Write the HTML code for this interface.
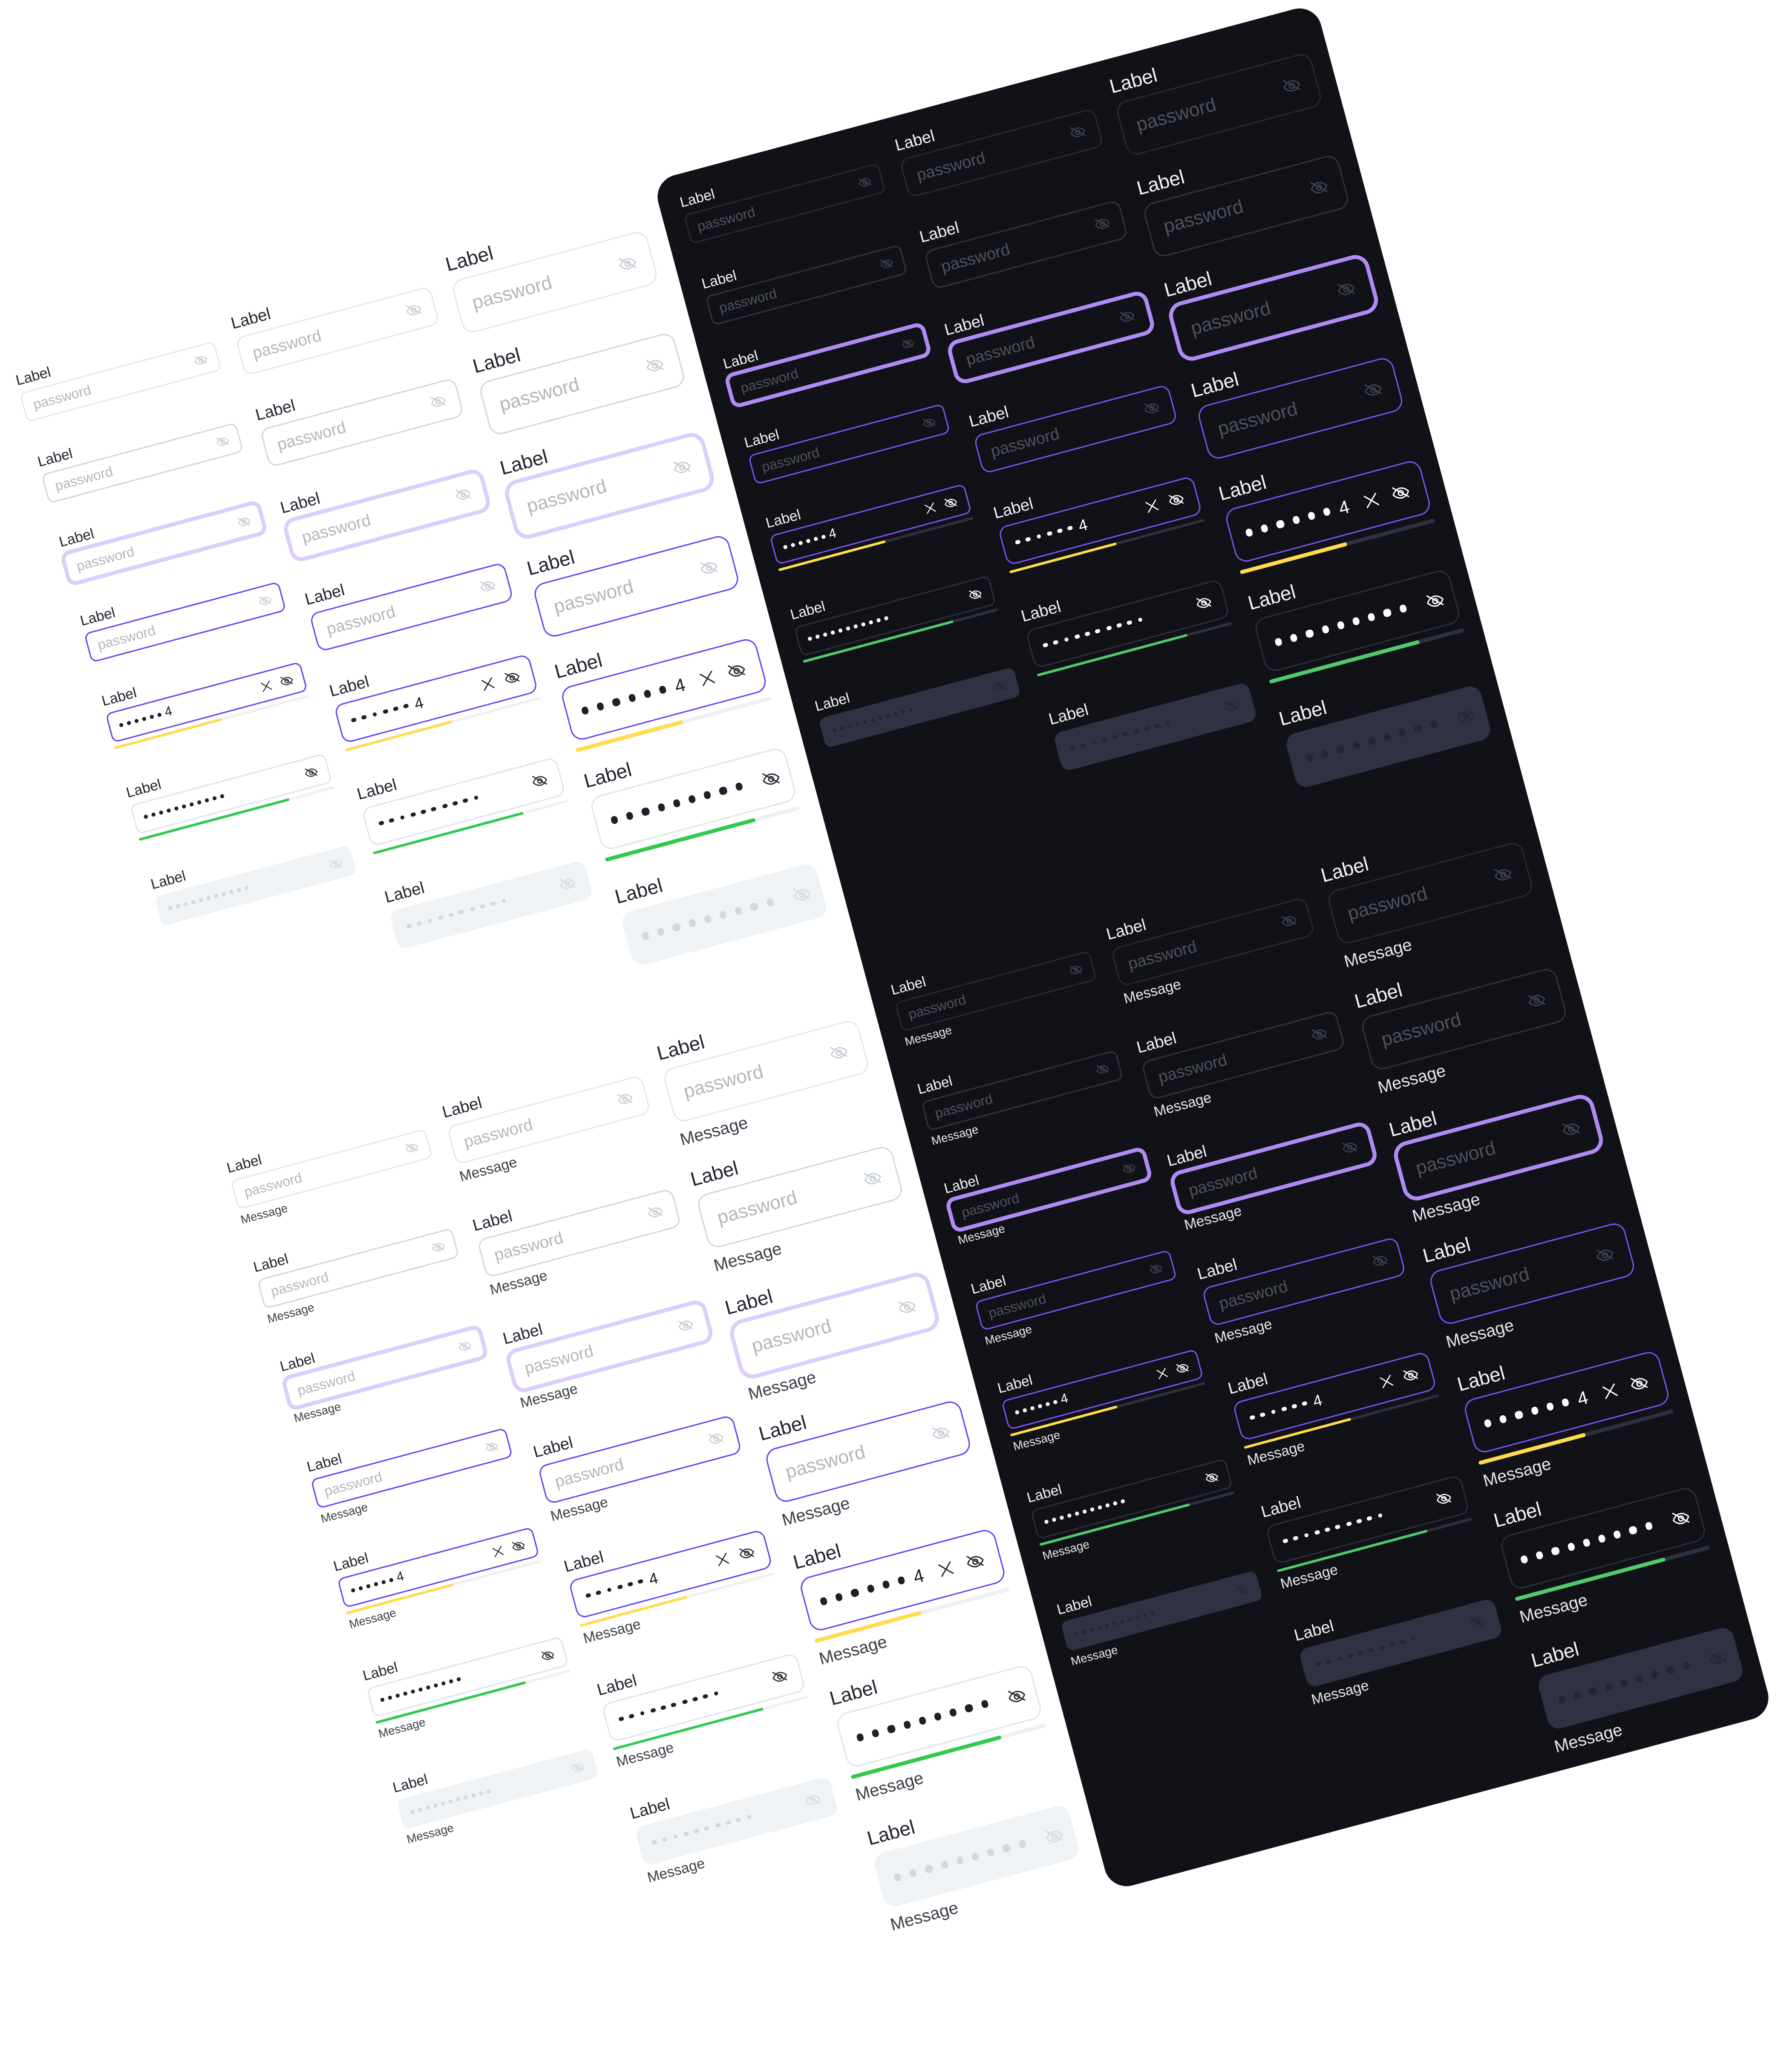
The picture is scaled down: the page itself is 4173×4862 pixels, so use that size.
<!DOCTYPE html>
<html><head><meta charset="utf-8">
<style>
html,body{margin:0;padding:0;background:#fff;width:4173px;height:4861px;overflow:hidden}
#s{position:absolute;left:0;top:0;width:1350px;height:1573px;transform:scale(3.0911);transform-origin:0 0}
#r{position:absolute;left:0;top:0;width:0;height:0;transform:rotate(-15deg);transform-origin:0 0}
.gt{position:absolute;left:0;top:6px}
.gb{position:absolute;left:0;top:10px}
.pn{position:absolute;left:443px;top:261px;width:521px;height:1344px;border-radius:17px;background:#111218}
.f{position:absolute;width:153px;font-family:"Liberation Sans",sans-serif}
.lb{display:block;font-weight:500;white-space:nowrap}
.s1 .lb{font-size:11px;line-height:13px}
.s2 .lb{font-size:12.5px;line-height:15px}
.s3 .lb{font-size:15px;line-height:18px}
.bx{box-sizing:border-box;display:flex;align-items:center;border:1px solid transparent}
.s1 .bx{height:23px;margin-top:2px;border-radius:5px;padding:0 7px}
.s2 .bx{height:30px;margin-top:3px;border-radius:7px;padding:0 9px}
.s3 .bx{height:42px;margin-top:3px;border-radius:9px;padding:0 11px}
.ph{flex:1;white-space:nowrap;display:flex;align-items:center}
.s1 .ph{font-size:10.5px}.s2 .ph{font-size:12.5px}.s3 .ph{font-size:14.5px}
svg.ic{flex:none;fill:none;stroke:currentColor;stroke-width:1.6;stroke-linecap:round}
.s1 .ic{width:11px;height:11px;margin-left:5px}
.s2 .ic{width:13px;height:13px;margin-left:6px}
.s3 .ic{width:15px;height:15px;margin-left:8px}
.f i{display:inline-block;border-radius:50%;background:currentColor;flex:none}
.s1 i{width:2.9px;height:2.9px;margin-right:3.1px}
.s2 i{width:3.9px;height:3.9px;margin-right:4.4px}
.s3 i{width:5.2px;height:5.2px;margin-right:7px}
.f b{font-weight:500}
.s1 b{font-size:10px}.s2 b{font-size:12px}.s3 b{font-size:14px}
.bar{border-radius:2px;overflow:hidden}
.s1 .bar{height:2px;margin-top:3px}
.s2 .bar{height:2.5px;margin-top:4px}
.s3 .bar{height:3px;margin-top:5px}
.bar div{height:100%;border-radius:2px}
.bar .y{width:55%;background:#ffdb4d}
.bar .g{width:77%;background:#33c84f}
.ms{display:block;white-space:nowrap;font-weight:500}
.s1 .ms{font-size:9px;margin-top:3px}
.s2 .ms{font-size:11px;margin-top:4px}
.s3 .ms{font-size:13px;margin-top:5px}
.L .lb{color:#23232f}.L .ph{color:#b2b6bc}.L .ic{color:#c6cdd4}.L .ms{color:#3b3e47}
.L .r1 .bx{border-color:#e3e7eb}.L .r2 .bx{border-color:#cfd6dd}
.L .r3 .bx{border-color:#dccdfb;box-shadow:0 0 0 2px #dccdfb}
.L .r4 .bx,.L .r5 .bx{border-color:#6a3cf2}
.L .r5 .ph,.L .r6 .ph{color:#1f1f2b}.L .r5 .ic,.L .r6 .ic{color:#2a2a36}
.L .r6 .bx{border-color:#dfe4e9}
.L .r7 .bx{background:#f0f3f6;border-color:#f0f3f6}.L .r7 .ph{color:#d3d8de}.L .r7 .ic{color:#d6dbe0}
.L .bar{background:#eef1f4}
.D .lb{color:#f3f3f6}.D .ph{color:#4f515c}.D .ic{color:#3f4150}.D .ms{color:#e8e8ec}
.D .r1 .bx{border-color:#272835}.D .r2 .bx{border-color:#30323f}
.D .r3 .bx{border-color:#b38cf6;box-shadow:0 0 0 2px #b38cf6}
.D .r4 .bx,.D .r5 .bx{border-color:#7f50f6}
.D .r5 .ph,.D .r6 .ph{color:#fff}.D .r5 .ic,.D .r6 .ic{color:#fff}
.D .r6 .bx{border-color:#2c2e3c}
.D .r7 .bx{background:#303244;border-color:#303244}.D .r7 .ph{color:#23253a}.D .r7 .ic{color:#23253a}
.D .bar{background:#2e3040}
.D .bar .g{background:#52c96c}
</style></head><body>
<svg width="0" height="0" style="position:absolute">
<symbol id="e" viewBox="0 0 24 24"><path d="M2.5 12.5s3.5-6 9.5-6 9.5 6 9.5 6-3.5 6-9.5 6-9.5-6-9.5-6z"/><circle cx="12" cy="12.5" r="3"/><path d="M4 4l16 15"/></symbol>
<symbol id="x" viewBox="0 0 24 24"><path d="M5 5l14 14M19 5L5 19"/></symbol>
</svg>
<div id="s"><div id="r">

<div class="pn"></div>

<!-- LIGHT TOP -->
<div class="L gt">
<div class="f s1 r1" style="left:-63px;top:271px"><span class="lb">Label</span><div class="bx"><span class="ph">password</span><svg class="ic"><use href="#e"/></svg></div></div>
<div class="f s1 r2" style="left:-63px;top:335px"><span class="lb">Label</span><div class="bx"><span class="ph">password</span><svg class="ic"><use href="#e"/></svg></div></div>
<div class="f s1 r3" style="left:-63px;top:398px"><span class="lb">Label</span><div class="bx"><span class="ph">password</span><svg class="ic"><use href="#e"/></svg></div></div>
<div class="f s1 r4" style="left:-63px;top:460px"><span class="lb">Label</span><div class="bx"><span class="ph">password</span><svg class="ic"><use href="#e"/></svg></div></div>
<div class="f s1 r5" style="left:-63px;top:523px"><span class="lb">Label</span><div class="bx"><span class="ph"><i></i><i></i><i></i><i></i><i></i><i></i><b>4</b></span><svg class="ic"><use href="#x"/></svg><svg class="ic"><use href="#e"/></svg></div><div class="bar"><div class="y"></div></div></div>
<div class="f s1 r6" style="left:-63px;top:595px"><span class="lb">Label</span><div class="bx"><span class="ph"><i></i><i></i><i></i><i></i><i></i><i></i><i></i><i></i><i></i><i></i><i></i></span><svg class="ic"><use href="#e"/></svg></div><div class="bar"><div class="g"></div></div></div>
<div class="f s1 r7" style="left:-63px;top:667px"><span class="lb">Label</span><div class="bx"><span class="ph"><i></i><i></i><i></i><i></i><i></i><i></i><i></i><i></i><i></i><i></i><i></i></span><svg class="ic"><use href="#e"/></svg></div></div>

<div class="f s2 r1" style="left:106px;top:269.5px"><span class="lb">Label</span><div class="bx"><span class="ph">password</span><svg class="ic"><use href="#e"/></svg></div></div>
<div class="f s2 r2" style="left:106px;top:341.5px"><span class="lb">Label</span><div class="bx"><span class="ph">password</span><svg class="ic"><use href="#e"/></svg></div></div>
<div class="f s2 r3" style="left:106px;top:414.5px"><span class="lb">Label</span><div class="bx"><span class="ph">password</span><svg class="ic"><use href="#e"/></svg></div></div>
<div class="f s2 r4" style="left:106px;top:486.5px"><span class="lb">Label</span><div class="bx"><span class="ph">password</span><svg class="ic"><use href="#e"/></svg></div></div>
<div class="f s2 r5" style="left:106px;top:558.5px"><span class="lb">Label</span><div class="bx"><span class="ph"><i></i><i></i><i></i><i></i><i></i><i></i><b>4</b></span><svg class="ic"><use href="#x"/></svg><svg class="ic"><use href="#e"/></svg></div><div class="bar"><div class="y"></div></div></div>
<div class="f s2 r6" style="left:106px;top:639.5px"><span class="lb">Label</span><div class="bx"><span class="ph"><i></i><i></i><i></i><i></i><i></i><i></i><i></i><i></i><i></i><i></i></span><svg class="ic"><use href="#e"/></svg></div><div class="bar"><div class="g"></div></div></div>
<div class="f s2 r7" style="left:106px;top:720.5px"><span class="lb">Label</span><div class="bx"><span class="ph"><i></i><i></i><i></i><i></i><i></i><i></i><i></i><i></i><i></i><i></i></span><svg class="ic"><use href="#e"/></svg></div></div>

<div class="f s3 r1" style="left:275px;top:268px"><span class="lb">Label</span><div class="bx"><span class="ph">password</span><svg class="ic"><use href="#e"/></svg></div></div>
<div class="f s3 r2" style="left:275px;top:348px"><span class="lb">Label</span><div class="bx"><span class="ph">password</span><svg class="ic"><use href="#e"/></svg></div></div>
<div class="f s3 r3" style="left:275px;top:428px"><span class="lb">Label</span><div class="bx"><span class="ph">password</span><svg class="ic"><use href="#e"/></svg></div></div>
<div class="f s3 r4" style="left:275px;top:507px"><span class="lb">Label</span><div class="bx"><span class="ph">password</span><svg class="ic"><use href="#e"/></svg></div></div>
<div class="f s3 r5" style="left:275px;top:588px"><span class="lb">Label</span><div class="bx"><span class="ph"><i></i><i></i><i></i><i></i><i></i><i></i><b>4</b></span><svg class="ic"><use href="#x"/></svg><svg class="ic"><use href="#e"/></svg></div><div class="bar"><div class="y"></div></div></div>
<div class="f s3 r6" style="left:275px;top:674px"><span class="lb">Label</span><div class="bx"><span class="ph"><i></i><i></i><i></i><i></i><i></i><i></i><i></i><i></i><i></i></span><svg class="ic"><use href="#e"/></svg></div><div class="bar"><div class="g"></div></div></div>
<div class="f s3 r7" style="left:275px;top:765px"><span class="lb">Label</span><div class="bx"><span class="ph"><i></i><i></i><i></i><i></i><i></i><i></i><i></i><i></i><i></i></span><svg class="ic"><use href="#e"/></svg></div></div>
</div>

<!-- DARK TOP -->
<div class="D gt">
<div class="f s1 r1" style="left:459px;top:271px"><span class="lb">Label</span><div class="bx"><span class="ph">password</span><svg class="ic"><use href="#e"/></svg></div></div>
<div class="f s1 r2" style="left:459px;top:335px"><span class="lb">Label</span><div class="bx"><span class="ph">password</span><svg class="ic"><use href="#e"/></svg></div></div>
<div class="f s1 r3" style="left:459px;top:398px"><span class="lb">Label</span><div class="bx"><span class="ph">password</span><svg class="ic"><use href="#e"/></svg></div></div>
<div class="f s1 r4" style="left:459px;top:460px"><span class="lb">Label</span><div class="bx"><span class="ph">password</span><svg class="ic"><use href="#e"/></svg></div></div>
<div class="f s1 r5" style="left:459px;top:523px"><span class="lb">Label</span><div class="bx"><span class="ph"><i></i><i></i><i></i><i></i><i></i><i></i><b>4</b></span><svg class="ic"><use href="#x"/></svg><svg class="ic"><use href="#e"/></svg></div><div class="bar"><div class="y"></div></div></div>
<div class="f s1 r6" style="left:459px;top:595px"><span class="lb">Label</span><div class="bx"><span class="ph"><i></i><i></i><i></i><i></i><i></i><i></i><i></i><i></i><i></i><i></i><i></i></span><svg class="ic"><use href="#e"/></svg></div><div class="bar"><div class="g"></div></div></div>
<div class="f s1 r7" style="left:459px;top:667px"><span class="lb">Label</span><div class="bx"><span class="ph"><i></i><i></i><i></i><i></i><i></i><i></i><i></i><i></i><i></i><i></i><i></i></span><svg class="ic"><use href="#e"/></svg></div></div>

<div class="f s2 r1" style="left:628px;top:269.5px"><span class="lb">Label</span><div class="bx"><span class="ph">password</span><svg class="ic"><use href="#e"/></svg></div></div>
<div class="f s2 r2" style="left:628px;top:341.5px"><span class="lb">Label</span><div class="bx"><span class="ph">password</span><svg class="ic"><use href="#e"/></svg></div></div>
<div class="f s2 r3" style="left:628px;top:414.5px"><span class="lb">Label</span><div class="bx"><span class="ph">password</span><svg class="ic"><use href="#e"/></svg></div></div>
<div class="f s2 r4" style="left:628px;top:486.5px"><span class="lb">Label</span><div class="bx"><span class="ph">password</span><svg class="ic"><use href="#e"/></svg></div></div>
<div class="f s2 r5" style="left:628px;top:558.5px"><span class="lb">Label</span><div class="bx"><span class="ph"><i></i><i></i><i></i><i></i><i></i><i></i><b>4</b></span><svg class="ic"><use href="#x"/></svg><svg class="ic"><use href="#e"/></svg></div><div class="bar"><div class="y"></div></div></div>
<div class="f s2 r6" style="left:628px;top:639.5px"><span class="lb">Label</span><div class="bx"><span class="ph"><i></i><i></i><i></i><i></i><i></i><i></i><i></i><i></i><i></i><i></i></span><svg class="ic"><use href="#e"/></svg></div><div class="bar"><div class="g"></div></div></div>
<div class="f s2 r7" style="left:628px;top:720.5px"><span class="lb">Label</span><div class="bx"><span class="ph"><i></i><i></i><i></i><i></i><i></i><i></i><i></i><i></i><i></i><i></i></span><svg class="ic"><use href="#e"/></svg></div></div>

<div class="f s3 r1" style="left:797px;top:268px"><span class="lb">Label</span><div class="bx"><span class="ph">password</span><svg class="ic"><use href="#e"/></svg></div></div>
<div class="f s3 r2" style="left:797px;top:348px"><span class="lb">Label</span><div class="bx"><span class="ph">password</span><svg class="ic"><use href="#e"/></svg></div></div>
<div class="f s3 r3" style="left:797px;top:428px"><span class="lb">Label</span><div class="bx"><span class="ph">password</span><svg class="ic"><use href="#e"/></svg></div></div>
<div class="f s3 r4" style="left:797px;top:507px"><span class="lb">Label</span><div class="bx"><span class="ph">password</span><svg class="ic"><use href="#e"/></svg></div></div>
<div class="f s3 r5" style="left:797px;top:588px"><span class="lb">Label</span><div class="bx"><span class="ph"><i></i><i></i><i></i><i></i><i></i><i></i><b>4</b></span><svg class="ic"><use href="#x"/></svg><svg class="ic"><use href="#e"/></svg></div><div class="bar"><div class="y"></div></div></div>
<div class="f s3 r6" style="left:797px;top:674px"><span class="lb">Label</span><div class="bx"><span class="ph"><i></i><i></i><i></i><i></i><i></i><i></i><i></i><i></i><i></i></span><svg class="ic"><use href="#e"/></svg></div><div class="bar"><div class="g"></div></div></div>
<div class="f s3 r7" style="left:797px;top:765px"><span class="lb">Label</span><div class="bx"><span class="ph"><i></i><i></i><i></i><i></i><i></i><i></i><i></i><i></i><i></i></span><svg class="ic"><use href="#e"/></svg></div></div>
</div>

<!-- LIGHT BOTTOM -->
<div class="L gb">
<div class="f s1 r1" style="left:-63px;top:886px"><span class="lb">Label</span><div class="bx"><span class="ph">password</span><svg class="ic"><use href="#e"/></svg></div><span class="ms">Message</span></div>
<div class="f s1 r2" style="left:-63px;top:964px"><span class="lb">Label</span><div class="bx"><span class="ph">password</span><svg class="ic"><use href="#e"/></svg></div><span class="ms">Message</span></div>
<div class="f s1 r3" style="left:-63px;top:1042px"><span class="lb">Label</span><div class="bx"><span class="ph">password</span><svg class="ic"><use href="#e"/></svg></div><span class="ms">Message</span></div>
<div class="f s1 r4" style="left:-63px;top:1121px"><span class="lb">Label</span><div class="bx"><span class="ph">password</span><svg class="ic"><use href="#e"/></svg></div><span class="ms">Message</span></div>
<div class="f s1 r5" style="left:-63px;top:1199px"><span class="lb">Label</span><div class="bx"><span class="ph"><i></i><i></i><i></i><i></i><i></i><i></i><b>4</b></span><svg class="ic"><use href="#x"/></svg><svg class="ic"><use href="#e"/></svg></div><div class="bar"><div class="y"></div></div><span class="ms">Message</span></div>
<div class="f s1 r6" style="left:-63px;top:1285px"><span class="lb">Label</span><div class="bx"><span class="ph"><i></i><i></i><i></i><i></i><i></i><i></i><i></i><i></i><i></i><i></i><i></i></span><svg class="ic"><use href="#e"/></svg></div><div class="bar"><div class="g"></div></div><span class="ms">Message</span></div>
<div class="f s1 r7" style="left:-63px;top:1373px"><span class="lb">Label</span><div class="bx"><span class="ph"><i></i><i></i><i></i><i></i><i></i><i></i><i></i><i></i><i></i><i></i><i></i></span><svg class="ic"><use href="#e"/></svg></div><span class="ms">Message</span></div>

<div class="f s2 r1" style="left:106px;top:885.5px"><span class="lb">Label</span><div class="bx"><span class="ph">password</span><svg class="ic"><use href="#e"/></svg></div><span class="ms">Message</span></div>
<div class="f s2 r2" style="left:106px;top:974.5px"><span class="lb">Label</span><div class="bx"><span class="ph">password</span><svg class="ic"><use href="#e"/></svg></div><span class="ms">Message</span></div>
<div class="f s2 r3" style="left:106px;top:1063.5px"><span class="lb">Label</span><div class="bx"><span class="ph">password</span><svg class="ic"><use href="#e"/></svg></div><span class="ms">Message</span></div>
<div class="f s2 r4" style="left:106px;top:1152.5px"><span class="lb">Label</span><div class="bx"><span class="ph">password</span><svg class="ic"><use href="#e"/></svg></div><span class="ms">Message</span></div>
<div class="f s2 r5" style="left:106px;top:1242.5px"><span class="lb">Label</span><div class="bx"><span class="ph"><i></i><i></i><i></i><i></i><i></i><i></i><b>4</b></span><svg class="ic"><use href="#x"/></svg><svg class="ic"><use href="#e"/></svg></div><div class="bar"><div class="y"></div></div><span class="ms">Message</span></div>
<div class="f s2 r6" style="left:106px;top:1339.5px"><span class="lb">Label</span><div class="bx"><span class="ph"><i></i><i></i><i></i><i></i><i></i><i></i><i></i><i></i><i></i><i></i></span><svg class="ic"><use href="#e"/></svg></div><div class="bar"><div class="g"></div></div><span class="ms">Message</span></div>
<div class="f s2 r7" style="left:106px;top:1436.5px"><span class="lb">Label</span><div class="bx"><span class="ph"><i></i><i></i><i></i><i></i><i></i><i></i><i></i><i></i><i></i><i></i></span><svg class="ic"><use href="#e"/></svg></div><span class="ms">Message</span></div>

<div class="f s3 r1" style="left:275px;top:884px"><span class="lb">Label</span><div class="bx"><span class="ph">password</span><svg class="ic"><use href="#e"/></svg></div><span class="ms">Message</span></div>
<div class="f s3 r2" style="left:275px;top:983px"><span class="lb">Label</span><div class="bx"><span class="ph">password</span><svg class="ic"><use href="#e"/></svg></div><span class="ms">Message</span></div>
<div class="f s3 r3" style="left:275px;top:1084px"><span class="lb">Label</span><div class="bx"><span class="ph">password</span><svg class="ic"><use href="#e"/></svg></div><span class="ms">Message</span></div>
<div class="f s3 r4" style="left:275px;top:1183px"><span class="lb">Label</span><div class="bx"><span class="ph">password</span><svg class="ic"><use href="#e"/></svg></div><span class="ms">Message</span></div>
<div class="f s3 r5" style="left:275px;top:1284px"><span class="lb">Label</span><div class="bx"><span class="ph"><i></i><i></i><i></i><i></i><i></i><i></i><b>4</b></span><svg class="ic"><use href="#x"/></svg><svg class="ic"><use href="#e"/></svg></div><div class="bar"><div class="y"></div></div><span class="ms">Message</span></div>
<div class="f s3 r6" style="left:275px;top:1391px"><span class="lb">Label</span><div class="bx"><span class="ph"><i></i><i></i><i></i><i></i><i></i><i></i><i></i><i></i><i></i></span><svg class="ic"><use href="#e"/></svg></div><div class="bar"><div class="g"></div></div><span class="ms">Message</span></div>
<div class="f s3 r7" style="left:275px;top:1501px"><span class="lb">Label</span><div class="bx"><span class="ph"><i></i><i></i><i></i><i></i><i></i><i></i><i></i><i></i><i></i></span><svg class="ic"><use href="#e"/></svg></div><span class="ms">Message</span></div>
</div>

<!-- DARK BOTTOM -->
<div class="D gb">
<div class="f s1 r1" style="left:459px;top:886px"><span class="lb">Label</span><div class="bx"><span class="ph">password</span><svg class="ic"><use href="#e"/></svg></div><span class="ms">Message</span></div>
<div class="f s1 r2" style="left:459px;top:964px"><span class="lb">Label</span><div class="bx"><span class="ph">password</span><svg class="ic"><use href="#e"/></svg></div><span class="ms">Message</span></div>
<div class="f s1 r3" style="left:459px;top:1042px"><span class="lb">Label</span><div class="bx"><span class="ph">password</span><svg class="ic"><use href="#e"/></svg></div><span class="ms">Message</span></div>
<div class="f s1 r4" style="left:459px;top:1121px"><span class="lb">Label</span><div class="bx"><span class="ph">password</span><svg class="ic"><use href="#e"/></svg></div><span class="ms">Message</span></div>
<div class="f s1 r5" style="left:459px;top:1199px"><span class="lb">Label</span><div class="bx"><span class="ph"><i></i><i></i><i></i><i></i><i></i><i></i><b>4</b></span><svg class="ic"><use href="#x"/></svg><svg class="ic"><use href="#e"/></svg></div><div class="bar"><div class="y"></div></div><span class="ms">Message</span></div>
<div class="f s1 r6" style="left:459px;top:1285px"><span class="lb">Label</span><div class="bx"><span class="ph"><i></i><i></i><i></i><i></i><i></i><i></i><i></i><i></i><i></i><i></i><i></i></span><svg class="ic"><use href="#e"/></svg></div><div class="bar"><div class="g"></div></div><span class="ms">Message</span></div>
<div class="f s1 r7" style="left:459px;top:1373px"><span class="lb">Label</span><div class="bx"><span class="ph"><i></i><i></i><i></i><i></i><i></i><i></i><i></i><i></i><i></i><i></i><i></i></span><svg class="ic"><use href="#e"/></svg></div><span class="ms">Message</span></div>

<div class="f s2 r1" style="left:628px;top:885.5px"><span class="lb">Label</span><div class="bx"><span class="ph">password</span><svg class="ic"><use href="#e"/></svg></div><span class="ms">Message</span></div>
<div class="f s2 r2" style="left:628px;top:974.5px"><span class="lb">Label</span><div class="bx"><span class="ph">password</span><svg class="ic"><use href="#e"/></svg></div><span class="ms">Message</span></div>
<div class="f s2 r3" style="left:628px;top:1063.5px"><span class="lb">Label</span><div class="bx"><span class="ph">password</span><svg class="ic"><use href="#e"/></svg></div><span class="ms">Message</span></div>
<div class="f s2 r4" style="left:628px;top:1152.5px"><span class="lb">Label</span><div class="bx"><span class="ph">password</span><svg class="ic"><use href="#e"/></svg></div><span class="ms">Message</span></div>
<div class="f s2 r5" style="left:628px;top:1242.5px"><span class="lb">Label</span><div class="bx"><span class="ph"><i></i><i></i><i></i><i></i><i></i><i></i><b>4</b></span><svg class="ic"><use href="#x"/></svg><svg class="ic"><use href="#e"/></svg></div><div class="bar"><div class="y"></div></div><span class="ms">Message</span></div>
<div class="f s2 r6" style="left:628px;top:1339.5px"><span class="lb">Label</span><div class="bx"><span class="ph"><i></i><i></i><i></i><i></i><i></i><i></i><i></i><i></i><i></i><i></i></span><svg class="ic"><use href="#e"/></svg></div><div class="bar"><div class="g"></div></div><span class="ms">Message</span></div>
<div class="f s2 r7" style="left:628px;top:1436.5px"><span class="lb">Label</span><div class="bx"><span class="ph"><i></i><i></i><i></i><i></i><i></i><i></i><i></i><i></i><i></i><i></i></span><svg class="ic"><use href="#e"/></svg></div><span class="ms">Message</span></div>

<div class="f s3 r1" style="left:797px;top:884px"><span class="lb">Label</span><div class="bx"><span class="ph">password</span><svg class="ic"><use href="#e"/></svg></div><span class="ms">Message</span></div>
<div class="f s3 r2" style="left:797px;top:983px"><span class="lb">Label</span><div class="bx"><span class="ph">password</span><svg class="ic"><use href="#e"/></svg></div><span class="ms">Message</span></div>
<div class="f s3 r3" style="left:797px;top:1084px"><span class="lb">Label</span><div class="bx"><span class="ph">password</span><svg class="ic"><use href="#e"/></svg></div><span class="ms">Message</span></div>
<div class="f s3 r4" style="left:797px;top:1183px"><span class="lb">Label</span><div class="bx"><span class="ph">password</span><svg class="ic"><use href="#e"/></svg></div><span class="ms">Message</span></div>
<div class="f s3 r5" style="left:797px;top:1284px"><span class="lb">Label</span><div class="bx"><span class="ph"><i></i><i></i><i></i><i></i><i></i><i></i><b>4</b></span><svg class="ic"><use href="#x"/></svg><svg class="ic"><use href="#e"/></svg></div><div class="bar"><div class="y"></div></div><span class="ms">Message</span></div>
<div class="f s3 r6" style="left:797px;top:1391px"><span class="lb">Label</span><div class="bx"><span class="ph"><i></i><i></i><i></i><i></i><i></i><i></i><i></i><i></i><i></i></span><svg class="ic"><use href="#e"/></svg></div><div class="bar"><div class="g"></div></div><span class="ms">Message</span></div>
<div class="f s3 r7" style="left:797px;top:1501px"><span class="lb">Label</span><div class="bx"><span class="ph"><i></i><i></i><i></i><i></i><i></i><i></i><i></i><i></i><i></i></span><svg class="ic"><use href="#e"/></svg></div><span class="ms">Message</span></div>
</div>

</div></div>
</body></html>
